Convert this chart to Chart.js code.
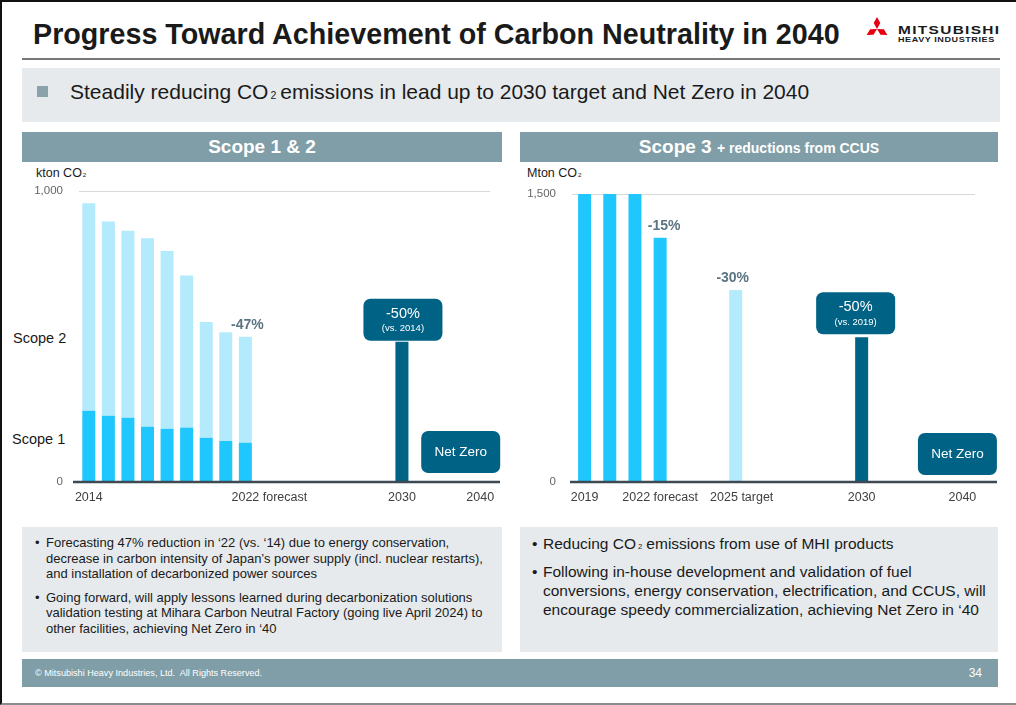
<!DOCTYPE html>
<html>
<head>
<meta charset="utf-8">
<script src="https://cdn.jsdelivr.net/npm/chart.js@4.4.1/dist/chart.umd.min.js"></script>
<style>
  body { margin: 0; width: 1016px; height: 705px; position: relative; overflow: hidden; background: #fff;
         font-family: "Liberation Sans", Arial, sans-serif; color: #1a1a1a; }
  .abs { position: absolute; }
  .frame { left: 0; top: 0; width: 1014px; height: 701px; border-top: 2px solid #111; border-left: 2px solid #111; border-bottom: 2px solid #8c8c8c; }
  .title { left: 33px; top: 18px; font-size: 28.7px; font-weight: bold; white-space: nowrap; }
  .rule { left: 22px; top: 58px; width: 978px; height: 2px; background: #777; }
  .lead { left: 22px; top: 68px; width: 978px; height: 54px; background: #e6eaed; }
  .lead .sq { position: absolute; left: 15px; top: 18px; width: 11px; height: 11px; background: #8aa2aa; }
  .lead .txt { position: absolute; left: 48px; top: 12px; font-size: 21px; white-space: nowrap; }
  sub { font-size: 0.5em; vertical-align: baseline; margin: 0 4px 0 2px; }
  .hdr { top: 132px; height: 30px; background: #7f9ea8; color: #fff; font-weight: bold; font-size: 19px;
         text-align: center; line-height: 30px; }
  .unit { font-size: 12.5px; white-space: nowrap; }
  .unit sub { margin: 0 0 0 1px; }
  .side { font-size: 14.5px; }
  .note { top: 527px; height: 125px; background: #e6eaed; }
  .note ul { margin: 0; padding: 0; list-style: none; }
  .note li { position: relative; white-space: nowrap; }
  .note li::before { content: "\2022"; position: absolute; left: -11px; }
  .foot { left: 22px; top: 659px; width: 976px; height: 28px; background: #7f9ea8; color: #fff; }
  .logo-t1 { left: 898px; top: 24px; font-size: 11.5px; font-weight: bold; letter-spacing: 1px; white-space: nowrap;
             transform: scaleX(1.34); transform-origin: left top; }
  .logo-t2 { left: 898px; top: 36px; font-size: 7px; font-weight: bold; letter-spacing: 0.45px; white-space: nowrap;
             transform: scaleX(1.29); transform-origin: left top; }
</style>
</head>
<body>
<div class="abs frame"></div>
<div class="abs title">Progress Toward Achievement of Carbon Neutrality in 2040</div>
<svg class="abs" style="left:865px;top:17px" width="24" height="21" viewBox="0 0 24 21">
  <g fill="#e60012">
    <polygon points="12,12 15.3,6 12,0 8.7,6"/>
    <polygon points="12,12 15.3,6 12,0 8.7,6" transform="rotate(120 12 12)"/>
    <polygon points="12,12 15.3,6 12,0 8.7,6" transform="rotate(240 12 12)"/>
  </g>
</svg>
<div class="abs logo-t1">MITSUBISHI</div>
<div class="abs logo-t2">HEAVY INDUSTRIES</div>
<div class="abs rule"></div>
<div class="abs lead"><div class="sq"></div><div class="txt">Steadily reducing CO<sub>2</sub>emissions in lead up to 2030 target and Net Zero in 2040</div></div>

<div class="abs hdr" style="left:22px;width:480px">Scope 1 &amp; 2</div>
<div class="abs hdr" style="left:520px;width:478px">Scope 3 <span style="font-size:14px">+ reductions from CCUS</span></div>

<div class="abs unit" style="left:36px;top:166px">kton CO<sub>2</sub></div>
<div class="abs unit" style="left:527px;top:166px">Mton CO<sub>2</sub></div>
<div class="abs side" style="left:13px;top:330px">Scope 2</div>
<div class="abs side" style="left:12px;top:431px">Scope 1</div>

<canvas id="scope12" class="abs" style="left:0;top:165px" width="510" height="345"></canvas>
<canvas id="scope3" class="abs" style="left:510px;top:165px" width="506" height="345"></canvas>

<div class="abs note" style="left:22px;width:480px">
  <ul style="position:absolute;left:24px;top:8px;font-size:13px;line-height:15.5px">
    <li>Forecasting 47% reduction in ‘22 (vs. ‘14) due to energy conservation,<br>decrease in carbon intensity of Japan’s power supply (incl. nuclear restarts),<br>and installation of decarbonized power sources</li>
    <li style="margin-top:8px">Going forward, will apply lessons learned during decarbonization solutions<br>validation testing at Mihara Carbon Neutral Factory (going live April 2024) to<br>other facilities, achieving Net Zero in ‘40</li>
  </ul>
</div>
<div class="abs note" style="left:520px;width:478px">
  <ul style="position:absolute;left:23px;top:7px;font-size:15.5px;line-height:19px">
    <li>Reducing CO<sub>2</sub>emissions from use of MHI products</li>
    <li style="margin-top:6px">Following in-house development and validation of fuel<br>conversions, energy conservation, electrification, and CCUS, will<br>encourage speedy commercialization, achieving Net Zero in ‘40</li>
  </ul>
</div>
<div class="abs foot">
  <div class="abs" style="left:13px;top:9px;font-size:9.1px;white-space:nowrap">© Mitsubishi Heavy Industries, Ltd.&nbsp; All Rights Reserved.</div>
  <div class="abs" style="right:16px;top:7px;font-size:12px">34</div>
</div>

<script>
// Scope 1 & 2 (kton CO2)
const scope12Years = ['2014', '2015', '2016', '2017', '2018', '2019', '2020', '2021', '2022',
  '2023', '2024', '2025', '2026', '2027', '2028', '2029', '2030', '2031', '2032', '2033', '2040']
const scope1Values = [245, 228, 221, 190, 183, 187, 152, 141, 135]
const scope2Values = [713, 667, 642, 648, 611, 523, 398, 374, 364]
const scope12Target2030 = 482
const scope12TickYears = ['2014', '2022', '2030', '2040']
const scope12TickTexts = ['2014', '2022 forecast', '2030', '2040']

// Scope 3 (Mton CO2)
const scope3Years = ['2019', '2020', '2021', '2022', '2023', '2024', '2025', '2026', '2027',
  '2028', '2029', '2030', '2031', '2032', '2033', '2040']
const scope3Values = [1500, 1500, 1500, 1272]
const scope3Target2025 = 1000
const scope3Target2030 = 754
const scope3TickYears = ['2019', '2022', '2025', '2030', '2040']
const scope3TickTexts = ['2019', '2022 forecast', '2025 target', '2030', '2040']

const BRIGHT = '#20c7fe'
const LIGHT = '#b3ebfd'
const DARK = '#006385'
const FONT = '"Liberation Sans", Arial, sans-serif'

// put values at given year slots, nulls elsewhere
function atYears (years, startYear, values) {
  const start = years.indexOf(startYear)
  return years.map((y, i) => (i >= start && i - start < values.length ? values[i - start] : null))
}

// baseline, x labels, percent labels and callout boxes, all placed with the chart scales
const slideMarks = {
  id: 'slideMarks',
  afterDatasetsDraw (chart, args, opts) {
    const { ctx, chartArea, scales: { x, y } } = chart
    const labels = chart.data.labels
    const y0 = y.getPixelForValue(0)
    ctx.save()
    ctx.strokeStyle = '#3e4952'
    ctx.lineWidth = 2.5
    ctx.beginPath()
    ctx.moveTo(chartArea.left - opts.axisExtend[0], y0)
    ctx.lineTo(chartArea.right + opts.axisExtend[1], y0)
    ctx.stroke()

    ctx.textAlign = 'center'
    ctx.textBaseline = 'middle'
    ctx.fillStyle = '#404040'
    ctx.font = '12.5px ' + FONT
    opts.tickYears.forEach((yr, k) => {
      const i = labels.indexOf(yr)
      ctx.fillText(opts.tickTexts[k], x.getPixelForValue(i) + (opts.tickShift[yr] || 0), y0 + 16)
    })

    ctx.fillStyle = '#5b7483'
    ctx.font = 'bold 14px ' + FONT
    opts.pct.forEach(p => {
      const i = labels.indexOf(p.year)
      ctx.fillText(p.text, x.getPixelForValue(i) + (p.dx || 0), y.getPixelForValue(p.value) - 12)
    })

    opts.boxes.forEach(b => {
      const i = labels.indexOf(b.year)
      const cx = x.getPixelForValue(i) + b.dx
      const bottom = y.getPixelForValue(b.value) - b.gap
      const w = 79
      const h = 42
      ctx.fillStyle = DARK
      ctx.beginPath()
      ctx.roundRect(cx - w / 2, bottom - h, w, h, 7)
      ctx.fill()
      ctx.fillStyle = '#fff'
      if (b.sub) {
        ctx.font = '14.5px ' + FONT
        ctx.fillText(b.text, cx, bottom - h + 15)
        ctx.font = '9.5px ' + FONT
        ctx.fillText(b.sub, cx, bottom - h + 30)
      } else {
        ctx.font = '13.5px ' + FONT
        ctx.fillText(b.text, cx, bottom - h / 2)
      }
    })
    ctx.restore()
  }
}

function yAxis (max, width) {
  return {
    min: 0,
    max: max,
    stacked: true,
    border: { display: false },
    grid: { drawTicks: false, color: c => (c.tick.value === 0 ? 'rgba(0,0,0,0)' : '#d9d9d9') },
    ticks: { stepSize: max, padding: 16, color: '#666', font: { family: FONT, size: 11.5 } },
    afterFit (scale) { scale.width = width }
  }
}

const baseOptions = {
  responsive: false,
  animation: false,
  plugins: { legend: { display: false }, tooltip: { enabled: false } }
}

new Chart(document.getElementById('scope12'), {
  type: 'bar',
  data: {
    labels: scope12Years,
    datasets: [
      { label: 'Scope 1', data: atYears(scope12Years, '2014', scope1Values), backgroundColor: BRIGHT },
      { label: 'Scope 2', data: atYears(scope12Years, '2014', scope2Values), backgroundColor: LIGHT },
      { label: '2030 target', data: atYears(scope12Years, '2030', [scope12Target2030]), backgroundColor: DARK }
    ]
  },
  options: {
    ...baseOptions,
    layout: { padding: { top: 26, right: 20, bottom: 28, left: 0 } },
    datasets: { bar: { barPercentage: 0.665, categoryPercentage: 1 } },
    scales: {
      x: { display: false, stacked: true },
      y: yAxis(1000, 79)
    },
    plugins: {
      ...baseOptions.plugins,
      slideMarks: {
        axisExtend: [6, 10],
        tickYears: scope12TickYears,
        tickTexts: scope12TickTexts,
        tickShift: { 2022: 24 },
        pct: [{ year: '2022', value: scope1Values[8] + scope2Values[8], text: '-47%', dx: 2 }],
        boxes: [
          { year: '2030', value: scope12Target2030, dx: 1, gap: 1, text: '-50%', sub: '(vs. 2014)' },
          { year: '2040', value: 0, dx: -19.5, gap: 9, text: 'Net Zero' }
        ]
      }
    }
  },
  plugins: [slideMarks]
})

new Chart(document.getElementById('scope3'), {
  type: 'bar',
  data: {
    labels: scope3Years,
    datasets: [
      { label: 'Scope 3', data: atYears(scope3Years, '2019', scope3Values), backgroundColor: BRIGHT },
      { label: '2025 target', data: atYears(scope3Years, '2025', [scope3Target2025]), backgroundColor: LIGHT },
      { label: '2030 target', data: atYears(scope3Years, '2030', [scope3Target2030]), backgroundColor: DARK }
    ]
  },
  options: {
    ...baseOptions,
    layout: { padding: { top: 29, right: 41, bottom: 28, left: 0 } },
    datasets: { bar: { barPercentage: 0.516, categoryPercentage: 1 } },
    scales: {
      x: { display: false, stacked: true },
      y: yAxis(1500, 62)
    },
    plugins: {
      ...baseOptions.plugins,
      slideMarks: {
        axisExtend: [2, 22],
        tickYears: scope3TickYears,
        tickTexts: scope3TickTexts,
        tickShift: { 2025: 6 },
        pct: [
          { year: '2022', value: scope3Values[3], text: '-15%', dx: 4 },
          { year: '2025', value: scope3Target2025, text: '-30%', dx: -3 }
        ],
        boxes: [
          { year: '2030', value: scope3Target2030, dx: -6, gap: 3, text: '-50%', sub: '(vs. 2019)' },
          { year: '2040', value: 0, dx: -5, gap: 7, text: 'Net Zero' }
        ]
      }
    }
  },
  plugins: [slideMarks]
})
</script>
</body>
</html>
